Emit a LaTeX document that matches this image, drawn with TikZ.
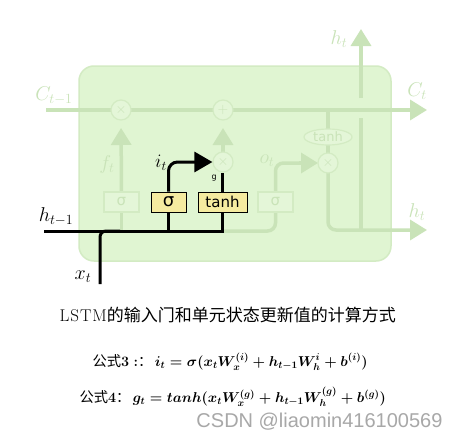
\RequirePackage{fix-cm}
\documentclass[tikz,border=0pt]{standalone}
\usepackage{amsmath}
\usepackage{fontspec}
\usepackage{tikz}
\usetikzlibrary{arrows.meta,calc,positioning,shapes.geometric}
\newfontfamily\cjk{Noto Sans CJK SC}
\newfontfamily\gatefont{DejaVu Sans}
\newfontfamily\markfont{Liberation Sans}
\definecolor{cellfill}{HTML}{E0F5D2}
\definecolor{celledge}{HTML}{D3EBC3}
\definecolor{cellline}{HTML}{C9E3B8}
\definecolor{opfill}{HTML}{E4F6D8}
\definecolor{gateyellow}{HTML}{F5EBA0}
\definecolor{markgray}{HTML}{A8A8A8}
\tikzset{%
	faded/.style    = {draw=cellline, line width=3.5pt},
	bold/.style     = {draw=black, line width=3pt},
	bighead/.style  = {-{Triangle[length=17pt,width=20pt]}},
	opcircle/.style = {circle, draw=celledge, fill=opfill, line width=1.2pt, minimum size=20pt, inner sep=0pt, text=cellline, font=\fontsize{14}{14}\selectfont},
	gatebox/.style  = {draw, rectangle, fill=gateyellow, line width=1pt, minimum height=20pt, inner sep=0pt, text centered, font=\gatefont\fontsize{15}{15}\selectfont},
	fadedbox/.style = {draw=celledge, rectangle, fill=opfill, line width=1.2pt, minimum width=35pt, minimum height=20pt, inner sep=0pt, text=cellline, font=\gatefont\fontsize{15}{15}\selectfont},
	fadedlbl/.style = {text=cellline, font=\fontsize{20}{20}\selectfont},
	celllbl/.style  = {font=\fontsize{20}{20}\selectfont},
	formula/.style  = {anchor=west, font=\fontsize{14.3}{15}\selectfont\boldmath},
}
\begin{document}
\begin{tikzpicture}[x=1pt,y=-1pt]
	\useasboundingbox (0,0) rectangle (461,439);
	\fill[white] (0,0) rectangle (461,439);
	% cell body
	\draw[fill=cellfill, draw=celledge, line width=1.5pt, rounded corners=15pt] (79,66) rectangle (391,261);
	\coordinate (cin) at (46,110);
	\coordinate (cout) at (427,110);
	\coordinate (hin) at (44,231);
	\coordinate (hout) at (427,230);
	\coordinate (xin) at (100,284);
	\coordinate (hupbot) at (361,230);
	\coordinate (hupgap) at (361,118);
	\coordinate (hupmid) at (361,98);
	\coordinate (htop) at (361,29);
	% faded paths
	\draw[faded, bighead] (cin) -- (cout);
	\draw[faded, rounded corners=8pt] ($(hin)+(180,0)$) -| (275.5,212);
	\draw[faded] (121.5,231) -- (121.5,212);
	\draw[faded, bighead, shorten >=8pt] (121.5,192) -- (121,120);
	\draw[faded, bighead, shorten >=8pt] (223,152) -- (223,120);
	\draw[faded, rounded corners=8pt] (275.5,192) |- (300,163);
	\draw[faded] (328,110) -- (328,163);
	\draw[faded, bighead, rounded corners=8pt] (328,163) |- (hout);
	\draw[faded] (hupbot) -- (hupgap);
	\draw[faded, bighead] (hupmid) -- (htop);
	\draw[faded, -{Triangle[length=17pt,width=20pt]}] (299,163) -- (318,163);
	% operators and gates
	\node[opcircle] (fmul) at (121,110) {$\times$};
	\node[opcircle] (addc) at (223,110) {$+$};
	\node[opcircle] (imul) at (223,162) {$\times$};
	\node[opcircle] (omul) at (328,163) {$\times$};
	\node[ellipse, draw=celledge, fill=opfill, line width=1.2pt, minimum width=48pt, minimum height=16pt, inner sep=0pt, text=cellline, font=\gatefont\fontsize{13}{13}\selectfont] (otanh) at (328,137) {tanh};
	\node[fadedbox] (fsig) at (121.5,202) {σ};
	\node[fadedbox] (osig) at (275.5,202) {σ};
	\node[gatebox, minimum width=35pt] (isig) at (168.5,202) {\fontsize{18}{18}\selectfont σ};
	\node[gatebox, minimum width=49pt] (gtanh) at (222.5,202) {tanh};
	% input gate and candidate
	\draw[bold] (hin) -- (gtanh.south |- hin) -- (gtanh.south);
	\draw[bold] (isig.south |- hin) -- (isig.south);
	\draw[bold, rounded corners=6pt] (xin) -- (xin |- hin) -- ($(xin |- hin)+(20,0)$);
	\draw[bold, -{Triangle[length=18pt,width=20pt]}, rounded corners=9pt] (isig.north) |- (imul.west);
	\draw[bold] (gtanh.north) -- ++(0,-19) node[pos=0.7, left=1pt, font=\gatefont\footnotesize] {g};
	% labels
	\node[fadedlbl] at (54,96) {$C_{t-1}$};
	\node[fadedlbl] at (417,91) {$C_t$};
	\node[fadedlbl] at (339,39) {$h_t$};
	\node[fadedlbl] at (417,212) {$h_t$};
	\node[fadedlbl] at (107,164) {$f_t$};
	\node[fadedlbl] at (267,161) {$o_t$};
	\node[font=\fontsize{19}{19}\selectfont] at (161,163) {$i_t$};
	\node[celllbl] at (56,217) {$h_{t-1}$};
	\node[celllbl] at (83,277) {$x_t$};
	% caption and formulas
	\node[anchor=west, font=\fontsize{17}{17}\selectfont] (title) at (56,315) {L\kern1pt S\kern1pt T\kern1pt M{\cjk 的输入门和单元状态更新值的计算方式}};
	\node[formula] (eqi) at (89,362) {{\cjk 公式}$3:${\cjk ：}\,$i_t=\sigma(x_tW_x^{(i)}+h_{t-1}W_h^{i}+b^{(i)})$};
	\node[formula] (eqg) at (76,397) {{\cjk 公式}$4${\cjk ：}\,$g_t=tanh(x_tW_x^{(g)}+h_{t-1}W_h^{(g)}+b^{(g)})$};
	\node[anchor=east, text=markgray, font=\markfont\fontsize{20}{20}\selectfont] (mark) at (446,422) {CSDN @liaomin416100569};
\end{tikzpicture}
\end{document}
